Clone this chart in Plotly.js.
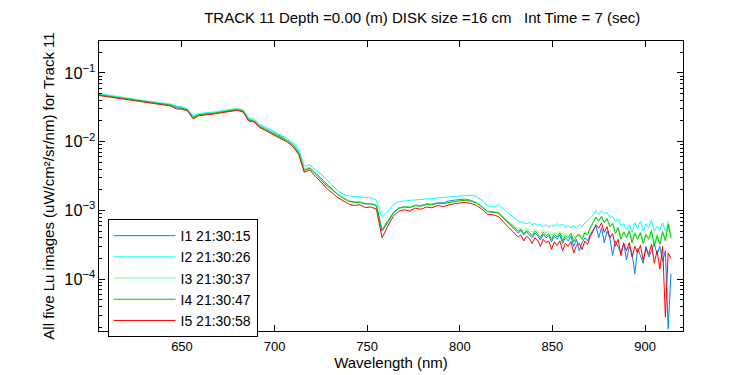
<!DOCTYPE html>
<html>
<head>
<meta charset="utf-8">
<script src="https://cdn.plot.ly/plotly-3.0.1.min.js"></script>
<style>html,body{margin:0;padding:0;background:#fff;}#chart{width:750px;height:375px;}</style>
</head>
<body>
<div id="chart"></div>
<script>
// Wavelengths (nm)
const wavelength = [
605,608,611,614,617,620,623,626,629,632,
635,638,641,644,647,650,653,656,659,662,
665,668,671,674,677,680,683,686,689,692,
695,698,701,704,707,710,713,716,719,722,
725,728,731,734,737,740,743,746,749,752,
755,758,761,764,767,770,773,776,779,782,
785,788,791,794,797,800,803,806,809,812,
815,818,821,824,827,
830,831.5,833,834.5,836,837.5,839,840.5,842,843.5,
845,846.5,848,849.5,851,852.5,854,855.5,857,858.5,
860,861.5,863,864.5,866,867.5,869,870.5,872,873.5,
875,876.5,878,879.5,881,882.5,884,885.5,887,888.5,
890,891.5,893,894.5,896,897.5,899,900.5,902,903.5,
905,906.5,908,909.5,911,912.5,914
];

// I1 21:30:15
const lu_I1 = [
0.0490,0.0475,0.0462,0.0450,0.0440,0.0425,0.0411,0.0399,0.0390,0.0380,
0.0371,0.0364,0.0356,0.0345,0.0322,0.0315,0.0293,0.0228,0.0248,0.0252,
0.0258,0.0264,0.0272,0.0282,0.0290,0.0296,0.0282,0.0210,0.0201,0.0170,
0.0155,0.0140,0.0128,0.0118,0.0105,0.0091,0.0072,0.0039,0.0042,0.0035,
0.0029,0.0024,0.0020,0.00172,0.00152,0.00136,0.00131,0.00132,0.00124,0.00125,
0.00117,0.00050,0.00066,0.00090,0.00107,0.00113,0.00112,0.00119,0.00118,0.00124,
0.00123,0.00130,0.00129,0.00137,0.00141,0.00145,0.00146,0.00140,0.00130,0.00113,
0.00096,0.00094,0.00091,0.00075,0.00062,
0.00053,0.00047,0.00051,0.00044,0.00049,0.00045,0.00040,0.00047,0.00043,0.00037,
0.00045,0.00040,0.00043,0.00035,0.00042,0.00038,0.00044,0.00033,0.00040,0.00036,
0.00042,0.00030,0.00038,0.00026,0.00034,0.00040,0.00036,0.00045,0.00052,0.00060,
0.00040,0.00056,0.00034,0.00050,0.00040,0.00022,0.00036,0.00030,0.00024,0.00034,
0.00019,0.00030,0.00024,0.00012,0.00028,0.00022,0.00017,0.00030,0.00021,0.00026,
0.00033,0.00023,0.00030,0.00018,0.00026,0.000019,0.00012
];

// I2 21:30:26
const lu_I2 = [
0.0500,0.0485,0.0470,0.0458,0.0448,0.0433,0.0418,0.0405,0.0396,0.0387,
0.0378,0.0370,0.0362,0.0352,0.0330,0.0320,0.0298,0.0240,0.0256,0.0260,
0.0266,0.0272,0.0280,0.0290,0.0298,0.0302,0.0290,0.0222,0.0210,0.0180,
0.0163,0.0148,0.0134,0.0124,0.0111,0.0097,0.0078,0.0044,0.0046,0.0039,
0.0034,0.0028,0.0023,0.00195,0.00172,0.00163,0.00160,0.00158,0.00155,0.00152,
0.00140,0.00080,0.00095,0.00120,0.00134,0.00138,0.00140,0.00142,0.00145,0.00147,
0.00150,0.00151,0.00154,0.00156,0.00160,0.00162,0.00165,0.00166,0.00160,0.00140,
0.00118,0.00112,0.00120,0.00103,0.00088,
0.00075,0.00070,0.00068,0.00066,0.00064,0.00067,0.00062,0.00065,0.00060,0.00063,
0.00058,0.00062,0.00057,0.00061,0.00059,0.00064,0.00060,0.00063,0.00057,0.00061,
0.00056,0.00060,0.00055,0.00062,0.00058,0.00066,0.00070,0.00078,0.00085,0.00100,
0.00088,0.00098,0.00090,0.00094,0.00078,0.00082,0.00070,0.00074,0.00060,0.00064,
0.00052,0.00062,0.00048,0.00066,0.00054,0.00070,0.00050,0.00064,0.00056,0.00072,
0.00050,0.00058,0.00052,0.00066,0.00050,0.00060,0.00048
];

// I3 21:30:37
const lu_I3 = [
0.0485,0.0472,0.0459,0.0448,0.0438,0.0423,0.0409,0.0397,0.0388,0.0378,
0.0369,0.0362,0.0354,0.0342,0.0312,0.0308,0.0291,0.0224,0.0247,0.0251,
0.0257,0.0263,0.0271,0.0281,0.0289,0.0295,0.0280,0.0209,0.0200,0.0168,
0.0153,0.0139,0.0127,0.0117,0.0104,0.0090,0.0071,0.0039,0.0042,0.0035,
0.0029,0.0024,0.0020,0.00172,0.00154,0.00138,0.00133,0.00133,0.00126,0.00126,
0.00120,0.00054,0.00070,0.00093,0.00109,0.00113,0.00112,0.00118,0.00116,0.00123,
0.00121,0.00128,0.00126,0.00132,0.00135,0.00139,0.00141,0.00137,0.00129,0.00113,
0.00097,0.00096,0.00093,0.00078,0.00066,
0.00058,0.00054,0.00056,0.00051,0.00055,0.00052,0.00049,0.00054,0.00050,0.00046,
0.00051,0.00047,0.00050,0.00043,0.00048,0.00045,0.00049,0.00041,0.00046,0.00043,
0.00047,0.00039,0.00044,0.00046,0.00041,0.00049,0.00047,0.00058,0.00068,0.00078,
0.00072,0.00080,0.00068,0.00074,0.00060,0.00066,0.00050,0.00057,0.00042,0.00050,
0.00043,0.00052,0.00038,0.00048,0.00041,0.00049,0.00036,0.00046,0.00041,0.00052,
0.00034,0.00045,0.00035,0.00050,0.00040,0.00070,0.00044
];

// I4 21:30:47
const lu_I4 = [
0.0482,0.0470,0.0457,0.0446,0.0436,0.0421,0.0407,0.0395,0.0386,0.0376,
0.0367,0.0360,0.0352,0.0340,0.0310,0.0306,0.0289,0.0222,0.0245,0.0249,
0.0255,0.0261,0.0269,0.0279,0.0287,0.0293,0.0278,0.0207,0.0198,0.0166,
0.0151,0.0137,0.0125,0.0115,0.0102,0.0088,0.0069,0.0038,0.0041,0.0034,
0.0028,0.0023,0.0020,0.00170,0.00152,0.00136,0.00132,0.00131,0.00125,0.00124,
0.00118,0.00052,0.00068,0.00092,0.00108,0.00112,0.00110,0.00117,0.00115,0.00122,
0.00120,0.00127,0.00125,0.00131,0.00134,0.00138,0.00140,0.00136,0.00128,0.00112,
0.00096,0.00095,0.00092,0.00076,0.00064,
0.00055,0.00050,0.00053,0.00046,0.00051,0.00048,0.00043,0.00050,0.00046,0.00040,
0.00048,0.00043,0.00046,0.00038,0.00045,0.00041,0.00047,0.00036,0.00043,0.00040,
0.00046,0.00035,0.00042,0.00044,0.00038,0.00047,0.00044,0.00056,0.00066,0.00080,
0.00070,0.00082,0.00066,0.00076,0.00058,0.00064,0.00046,0.00055,0.00038,0.00048,
0.00040,0.00050,0.00034,0.00046,0.00038,0.00047,0.00033,0.00044,0.00038,0.00050,
0.00030,0.00042,0.00032,0.00048,0.00036,0.00063,0.00040
];

// I5 21:30:58
const lu_I5 = [
0.0470,0.0458,0.0445,0.0434,0.0425,0.0410,0.0396,0.0384,0.0375,0.0366,
0.0357,0.0350,0.0343,0.0330,0.0300,0.0296,0.0280,0.0215,0.0238,0.0242,
0.0248,0.0254,0.0262,0.0272,0.0280,0.0286,0.0270,0.0200,0.0192,0.0160,
0.0145,0.0132,0.0120,0.0110,0.0098,0.0084,0.0065,0.0036,0.0039,0.0031,
0.0026,0.0021,0.0018,0.00155,0.00138,0.00124,0.00118,0.00121,0.00110,0.00112,
0.00104,0.00040,0.00058,0.00082,0.00097,0.00102,0.00098,0.00108,0.00104,0.00112,
0.00109,0.00118,0.00114,0.00121,0.00125,0.00128,0.00131,0.00126,0.00118,0.00104,
0.00088,0.00086,0.00081,0.00066,0.00055,
0.00046,0.00041,0.00044,0.00036,0.00042,0.00039,0.00033,0.00040,0.00037,0.00030,
0.00038,0.00034,0.00036,0.00027,0.00035,0.00031,0.00036,0.00026,0.00033,0.00030,
0.00035,0.00024,0.00031,0.00033,0.00027,0.00036,0.00032,0.00042,0.00050,0.00062,
0.00055,0.00066,0.00048,0.00058,0.00040,0.00046,0.00030,0.00038,0.00022,0.00033,
0.00026,0.00034,0.00021,0.00030,0.00024,0.00031,0.00019,0.00028,0.00023,0.00032,
0.00017,0.00026,0.00014,0.00030,0.000028,0.00024,0.00020
];

const seriesNames = ['I1 21:30:15','I2 21:30:26','I3 21:30:37','I4 21:30:47','I5 21:30:58'];
const seriesColors = ['#0080ff','#00ffff','#80ff80','#00c800','#ff0000'];
const seriesValues = [lu_I1, lu_I2, lu_I3, lu_I4, lu_I5];

const xTicks = [650,700,750,800,850,900];

const traces = seriesValues.map((vals, i) => ({
  type: 'scatter',
  mode: 'lines',
  x: wavelength,
  y: vals,
  name: seriesNames[i],
  line: {color: seriesColors[i], width: 1}
}));

const FONT = '"Liberation Sans", Arial, Helvetica, sans-serif';

const layout = {
  width: 750,
  height: 375,
  margin: {l: 99, r: 67, t: 41, b: 44, pad: 0},
  paper_bgcolor: '#ffffff',
  plot_bgcolor: '#ffffff',
  font: {family: FONT, size: 13, color: '#000000'},
  showlegend: true,
  title: {
    text: 'TRACK 11 Depth =0.00 (m) DISK size =16 cm   Int Time = 7 (sec)',
    font: {family: FONT, size: 15, color: '#000000'},
    x: 0.563, xanchor: 'center',
    y: 0.952, yanchor: 'middle'
  },
  xaxis: {
    range: [605.2, 920.5],
    tickvals: xTicks,
    ticktext: xTicks.map(String),
    ticks: 'inside',
    ticklen: 6,
    tickcolor: '#000000',
    ticklabelstandoff: 3,
    showline: true,
    linecolor: '#000000',
    linewidth: 1,
    mirror: 'allticks',
    showgrid: false,
    zeroline: false,
    tickfont: {family: FONT, size: 13},
    title: {text: 'Wavelength (nm)', font: {family: FONT, size: 15}, standoff: 2}
  },
  yaxis: {
    type: 'log',
    range: [-4.754, -0.536],
    dtick: 1,
    exponentformat: 'power',
    ticks: 'inside',
    ticklen: 6,
    tickcolor: '#000000',
    minor: {ticks: 'inside', ticklen: 3, tickcolor: '#000000', showgrid: false},
    showline: true,
    linecolor: '#000000',
    linewidth: 1,
    mirror: 'allticks',
    showgrid: false,
    zeroline: false,
    tickfont: {family: FONT, size: 13},
    title: {text: 'All five Lu images (uW/cm²/sr/nm) for Track 11', font: {family: FONT, size: 15}, standoff: 6}
  },
  legend: {
    x: 0.0146, y: 0.386, xanchor: 'left', yanchor: 'top',
    bgcolor: '#ffffff',
    bordercolor: '#000000',
    borderwidth: 1,
    font: {family: FONT, size: 14, color: '#000000'},
    itemwidth: 62,
    tracegroupgap: 0
  }
};

Plotly.newPlot('chart', traces, layout, {displayModeBar: false, staticPlot: true});
</script>
</body>
</html>
